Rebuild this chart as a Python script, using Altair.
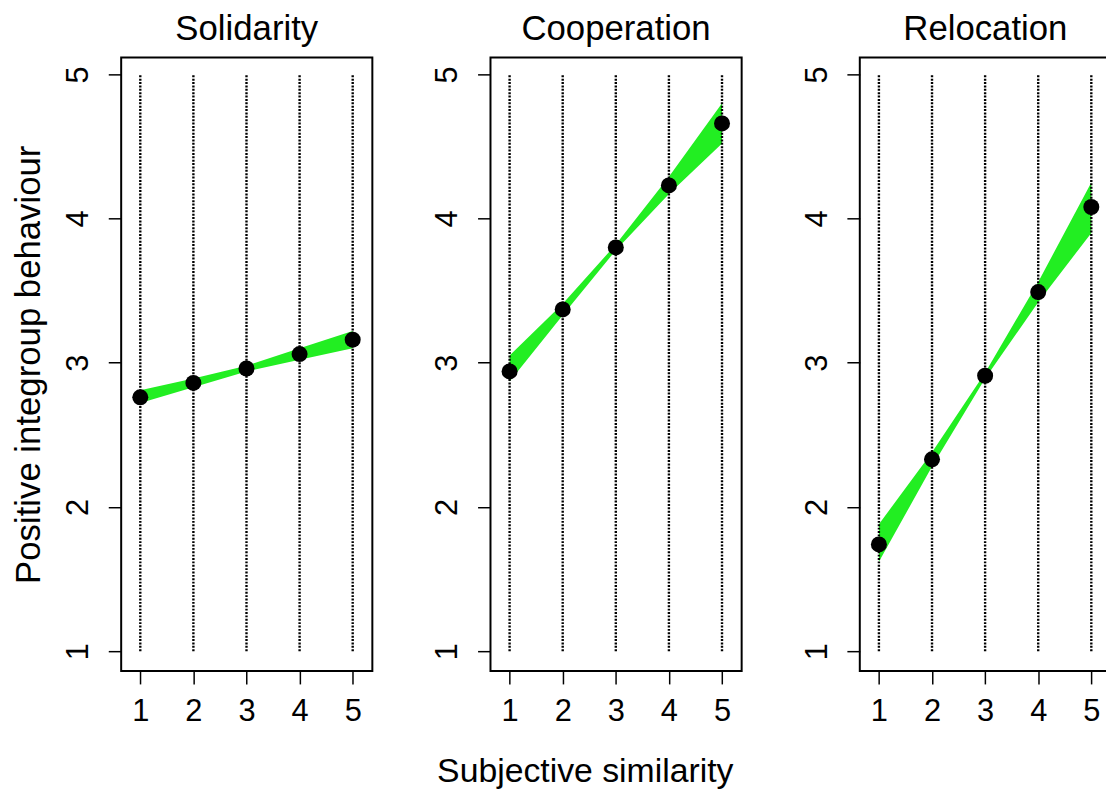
import altair as alt
import pandas as pd

# ---- data ----
x_vals = [1, 2, 3, 4, 5]
y_ticks = [1, 2, 3, 4, 5]
panel_names = ["Solidarity", "Cooperation", "Relocation"]

sol_mean = [2.76, 2.86, 2.96, 3.06, 3.16]
sol_lo = [2.72, 2.83, 2.94, 3.02, 3.10]
sol_hi = [2.81, 2.89, 2.98, 3.10, 3.22]

coop_mean = [2.94, 3.37, 3.80, 4.23, 4.66]
coop_lo = [2.87, 3.33, 3.78, 4.17, 4.52]
coop_hi = [3.05, 3.41, 3.82, 4.29, 4.80]

rel_mean = [1.74, 2.33, 2.91, 3.49, 4.08]
rel_lo = [1.62, 2.28, 2.89, 3.42, 3.90]
rel_hi = [1.88, 2.38, 2.93, 3.56, 4.25]

y_title = "Positive integroup behaviour"
x_title = "Subjective similarity"

GREEN = "#22ee22"
FONT = "Liberation Sans"


def make_panel(name, mean, lo, hi, first):
    df = pd.DataFrame({"x": x_vals, "m": mean, "lo": lo, "hi": hi})
    xs = alt.Scale(domain=[0.64, 5.37], nice=False, zero=False)
    ys = alt.Scale(domain=[0.862, 5.117], nice=False, zero=False)
    xaxis = alt.Axis(
        values=x_vals, format="d", title=None, labelAngle=0, labelFontSize=31,
        labelColor="black", tickColor="black", tickSize=13, tickWidth=1.5,
        labelPadding=13, domain=False, grid=False, labelFont=FONT,
    )
    yaxis = alt.Axis(
        values=y_ticks, format="d", title=y_title if first else None,
        labelAngle=270, labelAlign="center", labelBaseline="bottom",
        labelFontSize=31, labelColor="black", tickColor="black", tickSize=13,
        tickWidth=1.5, labelPadding=14, domain=False, grid=False,
        labelFont=FONT, titleFontSize=35, titleFontWeight="normal",
        titleColor="black", titleFont=FONT, titlePadding=16,
    )
    base = alt.Chart(df)
    band = base.mark_area(color=GREEN, opacity=1).encode(
        x=alt.X("x:Q", scale=xs, axis=xaxis),
        y=alt.Y("lo:Q", scale=ys, axis=yaxis),
        y2="hi:Q",
    )
    rules = base.mark_rule(
        color="black", strokeWidth=2.4, strokeDash=[2, 1.4]
    ).encode(x="x:Q", y=alt.datum(1), y2=alt.datum(5))
    pts = base.mark_circle(color="black", size=260, opacity=1).encode(
        x="x:Q", y="m:Q"
    )
    return alt.layer(band, rules, pts).properties(
        width=253,
        height=618,
        title=alt.TitleParams(
            name, fontSize=35, fontWeight="normal", color="black",
            font=FONT, anchor="middle", offset=11,
        ),
    )


p1 = make_panel(panel_names[0], sol_mean, sol_lo, sol_hi, True)
p2 = make_panel(panel_names[1], coop_mean, coop_lo, coop_hi, False)
p3 = make_panel(panel_names[2], rel_mean, rel_lo, rel_hi, False)

chart = alt.hconcat(p1, p2, p3, spacing=58).properties(
    title=alt.TitleParams(
        x_title, orient="bottom", anchor="middle", fontSize=34,
        fontWeight="normal", color="black", font=FONT, offset=28, dx=24,
    ),
    padding={"left": 3, "top": 0, "right": -6, "bottom": 0},
).configure(
    font=FONT,
    background="white",
    view=alt.ViewConfig(stroke="black", strokeWidth=2),
)

chart.save("out.html", embed_options={"renderer": "svg", "actions": False})
